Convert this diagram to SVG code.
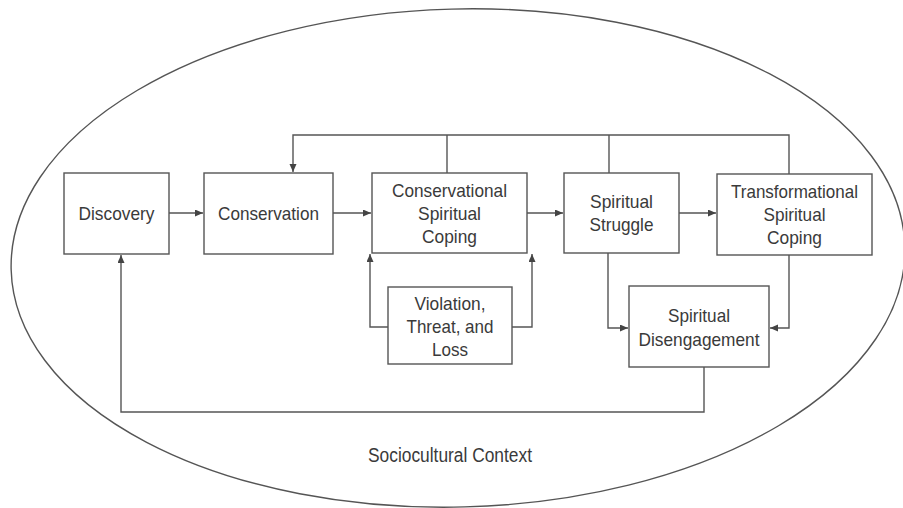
<svg xmlns="http://www.w3.org/2000/svg" width="903" height="508" viewBox="0 0 903 508">
<style>
.box{fill:#fff;stroke:#555;stroke-width:1.4}
.t{font-family:"Liberation Sans",Arial,sans-serif;font-size:19px;fill:#3a3a3a;text-anchor:middle}
.ctx{font-size:20px}
.c{fill:none;stroke:#555;stroke-width:1.4}
</style>
<defs>
<marker id="ah" markerUnits="userSpaceOnUse" markerWidth="9" markerHeight="8" refX="8" refY="3.5" orient="auto">
<path d="M0,0 L8,3.5 L0,7 z" fill="#444"/>
</marker>
</defs>
<rect width="903" height="508" fill="#fff"/>
<ellipse id="context" cx="458" cy="258" rx="447" ry="249" transform="rotate(-1.5 458 258)" fill="none" stroke="#555" stroke-width="1.4"/>
<text class="t ctx" x="450" y="462" textLength="164" lengthAdjust="spacingAndGlyphs">Sociocultural Context</text>
<g id="connectors">
<path class="c" d="M169,213 H203" marker-end="url(#ah)"/>
<path class="c" d="M333,213 H371" marker-end="url(#ah)"/>
<path class="c" d="M527,213 H563" marker-end="url(#ah)"/>
<path class="c" d="M679,213 H716" marker-end="url(#ah)"/>
<path class="c" d="M789,174 V135 H293 V172" marker-end="url(#ah)"/>
<path class="c" d="M447,173 V135"/>
<path class="c" d="M609,173 V135"/>
<path class="c" d="M388,327 H370 V254" marker-end="url(#ah)"/>
<path class="c" d="M512,327 H532 V254" marker-end="url(#ah)"/>
<path class="c" d="M608,253 V328 H628" marker-end="url(#ah)"/>
<path class="c" d="M789,255 V328 H770" marker-end="url(#ah)"/>
<path class="c" d="M704,367 V412 H121 V255" marker-end="url(#ah)"/>
</g>
<g id="discovery">
<rect class="box" x="64" y="173" width="105" height="81"/>
<text class="t" x="116.5" y="220" textLength="76" lengthAdjust="spacingAndGlyphs">Discovery</text>
</g>
<g id="conservation">
<rect class="box" x="204" y="173" width="129" height="81"/>
<text class="t" x="268.5" y="220" textLength="101" lengthAdjust="spacingAndGlyphs">Conservation</text>
</g>
<g id="conservational-coping">
<rect class="box" x="372" y="173" width="155" height="80"/>
<text class="t" x="449.5" y="197" textLength="115" lengthAdjust="spacingAndGlyphs">Conservational</text>
<text class="t" x="449.5" y="220" textLength="63" lengthAdjust="spacingAndGlyphs">Spiritual</text>
<text class="t" x="449.5" y="243" textLength="55" lengthAdjust="spacingAndGlyphs">Coping</text>
</g>
<g id="spiritual-struggle">
<rect class="box" x="564" y="173" width="115" height="80"/>
<text class="t" x="621.5" y="208" textLength="63" lengthAdjust="spacingAndGlyphs">Spiritual</text>
<text class="t" x="621.5" y="231" textLength="64" lengthAdjust="spacingAndGlyphs">Struggle</text>
</g>
<g id="transformational-coping">
<rect class="box" x="717" y="174" width="155" height="81"/>
<text class="t" x="794.5" y="198" textLength="127" lengthAdjust="spacingAndGlyphs">Transformational</text>
<text class="t" x="794.5" y="221" textLength="62" lengthAdjust="spacingAndGlyphs">Spiritual</text>
<text class="t" x="794.5" y="244" textLength="55" lengthAdjust="spacingAndGlyphs">Coping</text>
</g>
<g id="violation">
<rect class="box" x="388" y="287" width="124" height="77"/>
<text class="t" x="450" y="310" textLength="71" lengthAdjust="spacingAndGlyphs">Violation,</text>
<text class="t" x="450" y="333" textLength="87" lengthAdjust="spacingAndGlyphs">Threat, and</text>
<text class="t" x="450" y="356" textLength="36" lengthAdjust="spacingAndGlyphs">Loss</text>
</g>
<g id="disengagement">
<rect class="box" x="629" y="286" width="140" height="81"/>
<text class="t" x="699" y="322" textLength="62" lengthAdjust="spacingAndGlyphs">Spiritual</text>
<text class="t" x="699" y="346" textLength="121" lengthAdjust="spacingAndGlyphs">Disengagement</text>
</g>
</svg>
